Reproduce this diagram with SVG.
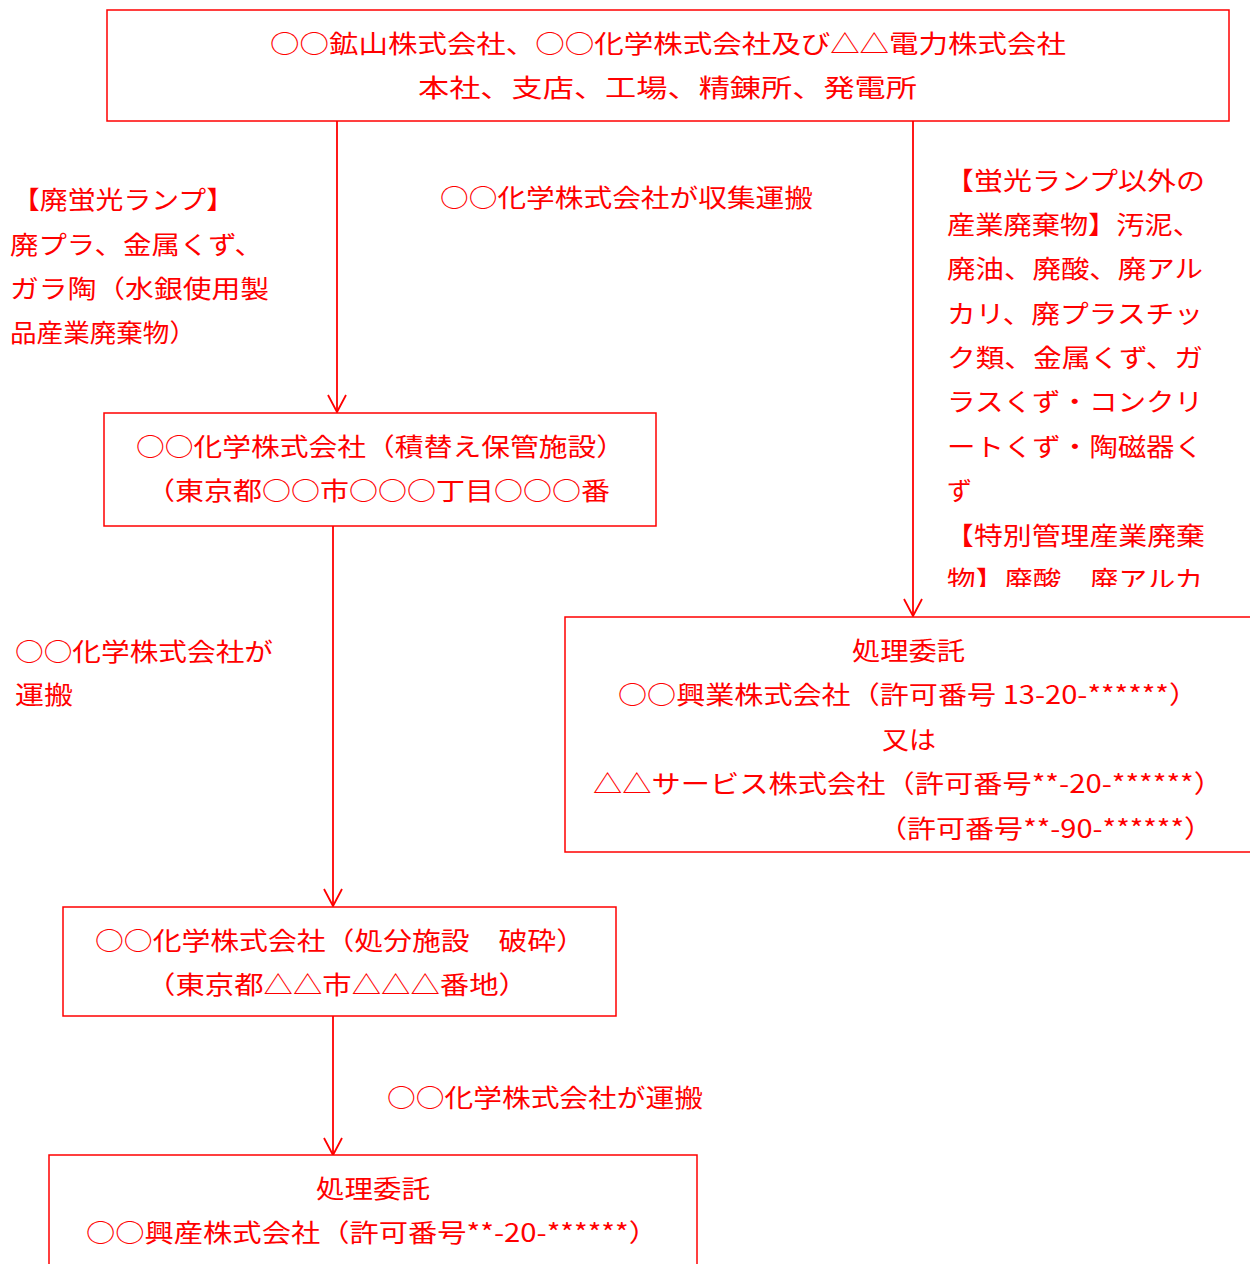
<svg xmlns="http://www.w3.org/2000/svg" width="1250" height="1264" viewBox="0 0 1250 1264">
<style>
  rect.box { fill: #ffffff; stroke: #ff0000; stroke-width: 1.5; }
  text { font-family: "Noto Sans CJK JP", "Noto Sans", sans-serif; font-size: 25px; fill: #ff0000; }
  .conn line { stroke: #ff0000; stroke-width: 1.8; fill: none; }
</style>
<defs>
  <marker id="arr" markerUnits="userSpaceOnUse" viewBox="-10 -18 20 20" refX="0" refY="0" markerWidth="20" markerHeight="20" orient="auto-start-reverse" overflow="visible">
    <path d="M-9,-17 L0,0 L9,-17" transform="rotate(-90)" fill="none" stroke="#ff0000" stroke-width="1.8"/>
  </marker>
  <clipPath id="clipLast">
    <rect x="940" y="555" width="310" height="32"/>
  </clipPath>
</defs>
<rect width="1250" height="1264" fill="#ffffff"/>

<g id="connectors" class="conn">
  <line x1="337" y1="121" x2="337" y2="412" marker-end="url(#arr)"/>
  <line x1="913" y1="121" x2="913" y2="616" marker-end="url(#arr)"/>
  <line x1="333" y1="526" x2="333" y2="906" marker-end="url(#arr)"/>
  <line x1="333" y1="1016" x2="333" y2="1155" marker-end="url(#arr)"/>
</g>

<g id="node-top">
  <rect class="box" x="107" y="10" width="1122" height="111"/>
  <text x="270" y="53" textLength="796" lengthAdjust="spacingAndGlyphs">○○鉱山株式会社、○○化学株式会社及び△△電力株式会社</text>
  <text x="418" y="97" textLength="499" lengthAdjust="spacingAndGlyphs">本社、支店、工場、精錬所、発電所</text>
</g>

<g id="node-transfer">
  <rect class="box" x="104" y="413" width="552" height="113"/>
  <text x="136" y="456" textLength="489" lengthAdjust="spacingAndGlyphs">○○化学株式会社（積替え保管施設）</text>
  <text x="146" y="500" textLength="464" lengthAdjust="spacingAndGlyphs">（東京都○○市○○○丁目○○○番</text>
</g>

<g id="node-disposal">
  <rect class="box" x="63" y="907" width="553" height="109"/>
  <text x="95" y="950" textLength="490" lengthAdjust="spacingAndGlyphs">○○化学株式会社（処分施設　破砕）</text>
  <text x="146" y="994" textLength="382" lengthAdjust="spacingAndGlyphs">（東京都△△市△△△番地）</text>
</g>

<g id="node-kousan">
  <rect class="box" x="49" y="1155" width="648" height="120"/>
  <text x="316" y="1198" textLength="114" lengthAdjust="spacingAndGlyphs">処理委託</text>
  <text x="86" y="1242" textLength="572" lengthAdjust="spacingAndGlyphs">○○興産株式会社（許可番号**-20-******）</text>
</g>

<g id="node-kougyou">
  <rect class="box" x="565" y="617" width="700" height="235"/>
  <text x="852" y="660" textLength="113" lengthAdjust="spacingAndGlyphs">処理委託</text>
  <text x="618" y="704" textLength="580" lengthAdjust="spacingAndGlyphs">○○興業株式会社（許可番号 13-20-******）</text>
  <text x="882" y="749" textLength="54" lengthAdjust="spacingAndGlyphs">又は</text>
  <text x="593" y="793" textLength="630" lengthAdjust="spacingAndGlyphs">△△サービス株式会社（許可番号**-20-******）</text>
  <text x="878" y="838" textLength="335" lengthAdjust="spacingAndGlyphs">（許可番号**-90-******）</text>
</g>

<g id="labels">
  <text x="440" y="207" textLength="373" lengthAdjust="spacingAndGlyphs">○○化学株式会社が収集運搬</text>

  <text x="12" y="209" textLength="222" lengthAdjust="spacingAndGlyphs">【廃蛍光ランプ】</text>
  <text x="10" y="254" textLength="253" lengthAdjust="spacingAndGlyphs">廃プラ、金属くず、</text>
  <text x="10" y="298" textLength="259" lengthAdjust="spacingAndGlyphs">ガラ陶（水銀使用製</text>
  <text x="10" y="342" textLength="186" lengthAdjust="spacingAndGlyphs">品産業廃棄物）</text>

  <text x="945" y="190" textLength="260" lengthAdjust="spacingAndGlyphs">【蛍光ランプ以外の</text>
  <text x="947" y="234" textLength="254" lengthAdjust="spacingAndGlyphs">産業廃棄物】汚泥、</text>
  <text x="947" y="278" textLength="256" lengthAdjust="spacingAndGlyphs">廃油、廃酸、廃アル</text>
  <text x="947" y="323" textLength="256" lengthAdjust="spacingAndGlyphs">カリ、廃プラスチッ</text>
  <text x="947" y="367" textLength="256" lengthAdjust="spacingAndGlyphs">ク類、金属くず、ガ</text>
  <text x="947" y="411" textLength="256" lengthAdjust="spacingAndGlyphs">ラスくず・コンクリ</text>
  <text x="947" y="456" textLength="256" lengthAdjust="spacingAndGlyphs">ートくず・陶磁器く</text>
  <text x="947" y="500">ず</text>
  <text x="945" y="545" textLength="260" lengthAdjust="spacingAndGlyphs">【特別管理産業廃棄</text>
  <text x="947" y="589" textLength="256" lengthAdjust="spacingAndGlyphs" clip-path="url(#clipLast)">物】廃酸　廃アルカ</text>

  <text x="15" y="661" textLength="258" lengthAdjust="spacingAndGlyphs">○○化学株式会社が</text>
  <text x="15" y="704" textLength="58" lengthAdjust="spacingAndGlyphs">運搬</text>

  <text x="387" y="1107" textLength="316" lengthAdjust="spacingAndGlyphs">○○化学株式会社が運搬</text>
</g>
</svg>
